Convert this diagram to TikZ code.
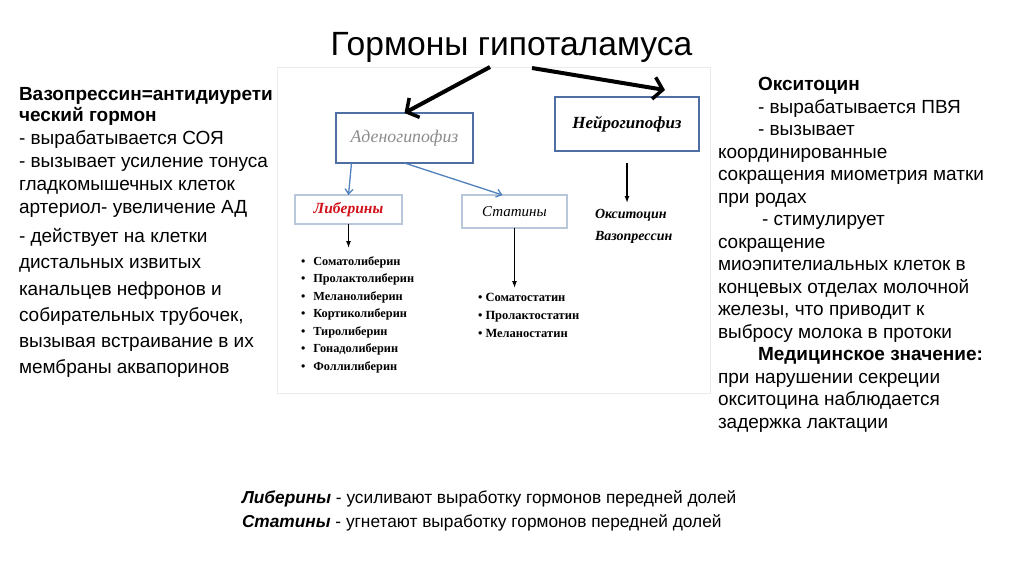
\documentclass[tikz,border=0pt]{standalone}
\usepackage{fontspec}
\setmainfont{Liberation Sans}
\newfontfamily\timesfont{Liberation Serif}
\usetikzlibrary{arrows.meta,positioning}

\definecolor{boxblue}{HTML}{4F6FA3}
\definecolor{lightbox}{HTML}{B9C7DA}
\definecolor{arrowblue}{HTML}{4F81BD}
\definecolor{liberred}{HTML}{D2121B}
\definecolor{adenogray}{HTML}{8C8C8C}

\begin{document}
\begin{tikzpicture}
  [x=1pt, y=-1pt,
   every node/.style={inner sep=0pt, outer sep=0pt},
   body/.style={anchor=base west, align=left},
   organ/.style={draw=boxblue, line width=1.6pt, minimum width=137pt, minimum height=50pt,
                 font=\timesfont\itshape\fontsize{17.8}{20}\selectfont},
   group/.style={draw=lightbox, line width=1.2pt, minimum width=105pt, minimum height=30pt,
                 font=\timesfont\itshape\fontsize{15}{18}\selectfont},
   hormones/.style={anchor=base west, align=left, font=\timesfont\bfseries\fontsize{12.3}{17.5}\selectfont},
   thick arrow/.style={line width=4pt, -{Straight Barb[length=9pt,width=22pt,line width=3.5pt]}},
   blue arrow/.style={draw=arrowblue, line width=1.3pt, -{Straight Barb[length=5pt,width=8pt]}},
   thin arrow/.style={line width=1.3pt, -{Latex[length=7pt,width=5pt]}}]

  \useasboundingbox[fill=white] (0,0) rectangle (1024,576);

  % title
  \node[anchor=base] (title) at (511.5,55) {\fontsize{33.6}{38}\selectfont Гормоны гипоталамуса};

  % picture panel
  \draw[black!8, line width=1pt] (277,67) rectangle (710,393);

  % boxes
  \node[organ, text=adenogray] (adeno) at (404.5,138) {Аденогипофиз};
  \node[organ, font=\timesfont\bfseries\itshape\fontsize{17}{19}\selectfont,
        minimum width=144pt, minimum height=54pt] (neuro) at (627,124) {Нейрогипофиз};
  \node[group, minimum width=107pt, minimum height=29pt, text=liberred,
        font=\timesfont\bfseries\itshape\fontsize{15.5}{19}\selectfont] (liber) at (348.5,209.5) {Либерины};
  \node[group, minimum height=33pt] (stat) at (514.5,211.5) {Статины};

  % lists
  \node[hormones] (liblist) at (301,370) {%
    •\hspace{8pt}Соматолиберин\\
    •\hspace{8pt}Пролактолиберин\\
    •\hspace{8pt}Меланолиберин\\
    •\hspace{8pt}Кортиколиберин\\
    •\hspace{8pt}Тиролиберин\\
    •\hspace{8pt}Гонадолиберин\\
    •\hspace{8pt}Фоллилиберин};
  \node[hormones, font=\timesfont\bfseries\fontsize{12.5}{17.8}\selectfont] (statlist) at (478,337.3) {%
    • Соматостатин\\
    • Пролактостатин\\
    • Меланостатин};
  \node[body, font=\timesfont\bfseries\itshape\fontsize{14}{21.7}\selectfont] (oxyvaso) at (595,240)
    {Окситоцин\\Вазопрессин};

  % arrows
  \coordinate (tl) at (490,67);
  \coordinate (tr) at (532,68);
  \coordinate (ntop) at (665,90);
  \draw[thick arrow] (tl) -- (adeno.north);
  \draw[thick arrow] (tr) -- (ntop);
  \draw[blue arrow] (liber.north |- adeno.south) ++(3,0) -- (liber.north);
  \draw[blue arrow] (adeno.south) -- ([xshift=-12pt]stat.north);
  \draw[thin arrow] (liber.south) -- ++(0,24);
  \draw[thin arrow] (stat.south) -- ++(0,60);
  \draw[thin arrow, shorten <=12pt] (neuro.south) -- ++(0,52);

  % left text
  \node[body, font=\bfseries\fontsize{19}{20.5}\selectfont] (vasohead) at (19,121)
    {Вазопрессин=антидиурети\\ческий гормон};
  \node[body, font=\fontsize{19}{22.8}\selectfont] (vasoprod) at (19,213)
    {- вырабатывается СОЯ\\
     - вызывает усиление тонуса\\
     гладкомышечных клеток\\
     артериол- увеличение АД};
  \node[body, font=\fontsize{19}{26.1}\selectfont] (vasoact) at (19,373.3)
    {- действует на клетки\\
     дистальных извитых\\
     канальцев нефронов и\\
     собирательных трубочек,\\
     вызывая встраивание в их\\
     мембраны аквапоринов};

  % right text
  \node[body, font=\fontsize{19}{22.5}\selectfont] (oxytext) at (718,428.3)
    {\hspace*{40pt}\textbf{Окситоцин}\\
     \hspace*{40pt}- вырабатывается ПВЯ\\
     \hspace*{40pt}- вызывает\\
     координированные\\
     сокращения миометрия матки\\
     при родах\\
     \hspace*{44pt}- стимулирует\\
     сокращение\\
     миоэпителиальных клеток в\\
     концевых отделах молочной\\
     железы, что приводит к\\
     выбросу молока в протоки\\
     \hspace*{40pt}\textbf{Медицинское значение:}\\
     при нарушении секреции\\
     окситоцина наблюдается\\
     задержка лактации};

  % bottom text
  \node[body, font=\fontsize{17.3}{24}\selectfont] (notes) at (242,527)
    {\textbf{\itshape Либерины} - усиливают выработку гормонов передней долей\\
     \textbf{\itshape Статины} - угнетают выработку гормонов передней долей};
\end{tikzpicture}
\end{document}
